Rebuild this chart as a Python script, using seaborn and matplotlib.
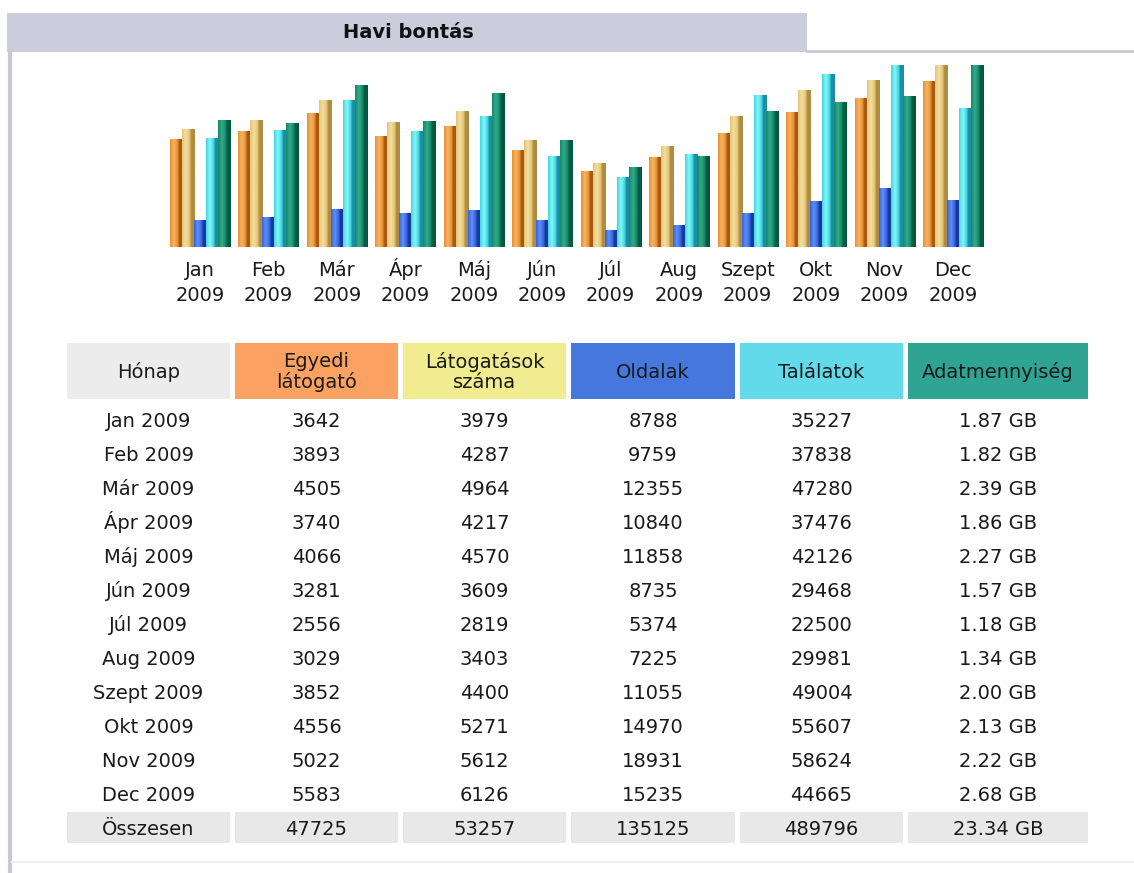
import numpy as np
import pandas as pd
import seaborn as sns
import matplotlib.pyplot as plt
from matplotlib.patches import Rectangle
from matplotlib.colors import LinearSegmentedColormap

months = ["Jan", "Feb", "Már", "Ápr", "Máj", "Jún", "Júl", "Aug", "Szept", "Okt", "Nov", "Dec"]
year = "2009"
unique_visitors = [3642, 3893, 4505, 3740, 4066, 3281, 2556, 3029, 3852, 4556, 5022, 5583]
visits = [3979, 4287, 4964, 4217, 4570, 3609, 2819, 3403, 4400, 5271, 5612, 6126]
pages = [8788, 9759, 12355, 10840, 11858, 8735, 5374, 7225, 11055, 14970, 18931, 15235]
hits = [35227, 37838, 47280, 37476, 42126, 29468, 22500, 29981, 49004, 55607, 58624, 44665]
bandwidth_gb = [1.87, 1.82, 2.39, 1.86, 2.27, 1.57, 1.18, 1.34, 2.00, 2.13, 2.22, 2.68]
totals = ["47725", "53257", "135125", "489796", "23.34 GB"]

metrics = ["Egyedi látogató", "Látogatások száma", "Oldalak", "Találatok", "Adatmennyiség"]
header_labels = ["Hónap", "Egyedi\nlátogató", "Látogatások\nszáma", "Oldalak", "Találatok", "Adatmennyiség"]
header_colors = ["#ECECEC", "#FBA262", "#F2EC90", "#4577DC", "#62DAEA", "#2FA493"]
total_label = "Összesen"

# bar shading: (mid, light, dark) per metric
bar_shades = {
    "Egyedi látogató": ("#E8902E", "#F6B466", "#A85810"),
    "Látogatások száma": ("#E2C474", "#F4DFA0", "#B08C40"),
    "Oldalak": ("#3464E0", "#6090F4", "#1838A0"),
    "Találatok": ("#40D6E2", "#86F6F6", "#1A8EA6"),
    "Adatmennyiség": ("#128A6A", "#34AA8A", "#005A40"),
}

W, H = 1134, 873
TXT = "#1a1a1a"
fig = plt.figure(figsize=(W / 100, H / 100), dpi=100)
plt.rcParams['font.family'] = ['DejaVu Sans']

# background / page frame in pixel coords
bg = fig.add_axes([0, 0, 1, 1])
bg.set_xlim(0, W)
bg.set_ylim(H, 0)
bg.axis('off')
bg.add_patch(Rectangle((7, 13), 800, 39, color="#CDCCDD", lw=0))
bg.plot([807, W], [51, 51], color="#C9C9D3", lw=2)
bg.plot([10, 10], [51, H], color="#C9C9D3", lw=3)
bg.plot([12, W], [862, 862], color="#F0F0EC", lw=1.5)
bg.text(408, 33, "Havi bontás", ha='center', va='center', fontsize=14, fontweight='bold', color="#111111")

# --- bar chart: AWStats scales visitors/visits by max visits, pages/hits by max hits ---
scaled = {
    metrics[0]: np.array(unique_visitors) / max(visits),
    metrics[1]: np.array(visits) / max(visits),
    metrics[2]: np.array(pages) / max(hits),
    metrics[3]: np.array(hits) / max(hits),
    metrics[4]: np.array(bandwidth_gb) / max(bandwidth_gb),
}
rows = []
for m in metrics:
    for mon, v in zip(months, scaled[m]):
        rows.append({"month": mon, "metric": m, "value": v})
df = pd.DataFrame(rows)

ax = fig.add_axes([165.8 / W, 1 - 247 / H, (987.2 - 165.8) / W, (247 - 65) / H])
sns.barplot(data=df, x="month", y="value", hue="metric", hue_order=metrics, order=months,
            palette=[bar_shades[m][0] for m in metrics], saturation=1,
            width=0.877, errorbar=None, legend=False, ax=ax)

# cylinder-like shading on each bar
for cont, m in zip(ax.containers, metrics):
    mid, light, dark = bar_shades[m]
    cmap = LinearSegmentedColormap.from_list(m, [(0, mid), (0.3, light), (0.6, mid), (0.72, dark), (1, dark)])
    grad = np.linspace(0, 1, 64).reshape(1, -1)
    for p in cont.patches:
        x0, w, h = p.get_x(), p.get_width(), p.get_height()
        im = ax.imshow(grad, extent=[x0, x0 + w, 0, h], aspect='auto', cmap=cmap,
                       interpolation='bilinear', zorder=p.get_zorder() + 0.1)
        im.set_clip_path(p)

ax.set_xlim(-0.5, 11.5)
ax.set_ylim(0, 1)
ax.set_facecolor('none')
for s in ax.spines.values():
    s.set_visible(False)
ax.set_yticks([])
ax.set_xticks([])
ax.set_xlabel("")
ax.set_ylabel("")

# two-line month labels, baseline aligned so accents don't shift them
for i, mon in enumerate(months):
    for txt, off in ((mon, -29), (year, -54)):
        ax.annotate(txt, xy=(i, 0), xycoords=('data', 'axes fraction'),
                    xytext=(0, off * 0.72), textcoords='offset points',
                    ha='center', va='baseline', fontsize=14, color=TXT)

# --- table below ---
col_x = [(67, 230), (235, 398), (403, 566), (571, 735), (740, 903), (908, 1088)]
fs = 14
for (x0, x1), lab, col in zip(col_x, header_labels, header_colors):
    bg.add_patch(Rectangle((x0, 343), x1 - x0, 56, color=col, lw=0))
    bg.text((x0 + x1) / 2, 372, lab, ha='center', va='center', fontsize=fs,
            linespacing=1.1, color=TXT)

columns = [
    [str(v) for v in unique_visitors],
    [str(v) for v in visits],
    [str(v) for v in pages],
    [str(v) for v in hits],
    [f"{v:.2f} GB" for v in bandwidth_gb],
]
row_y0, row_dy = 420, 34
for i, mon in enumerate(months):
    y = row_y0 + i * row_dy + 7
    bg.text(sum(col_x[0]) / 2, y, f"{mon} {year}", ha='center', va='baseline', fontsize=fs, color=TXT)
    for (x0, x1), vals in zip(col_x[1:], columns):
        bg.text((x0 + x1) / 2, y, vals[i], ha='center', va='baseline', fontsize=fs, color=TXT)

y_tot = row_y0 + len(months) * row_dy
for (x0, x1), lab in zip(col_x, [total_label] + totals):
    bg.add_patch(Rectangle((x0, y_tot - 16), x1 - x0, 31, color="#E8E8E8", lw=0))
    bg.text((x0 + x1) / 2, y_tot + 7, lab, ha='center', va='baseline', fontsize=fs, color=TXT)

fig.savefig("out.png", dpi=100)
